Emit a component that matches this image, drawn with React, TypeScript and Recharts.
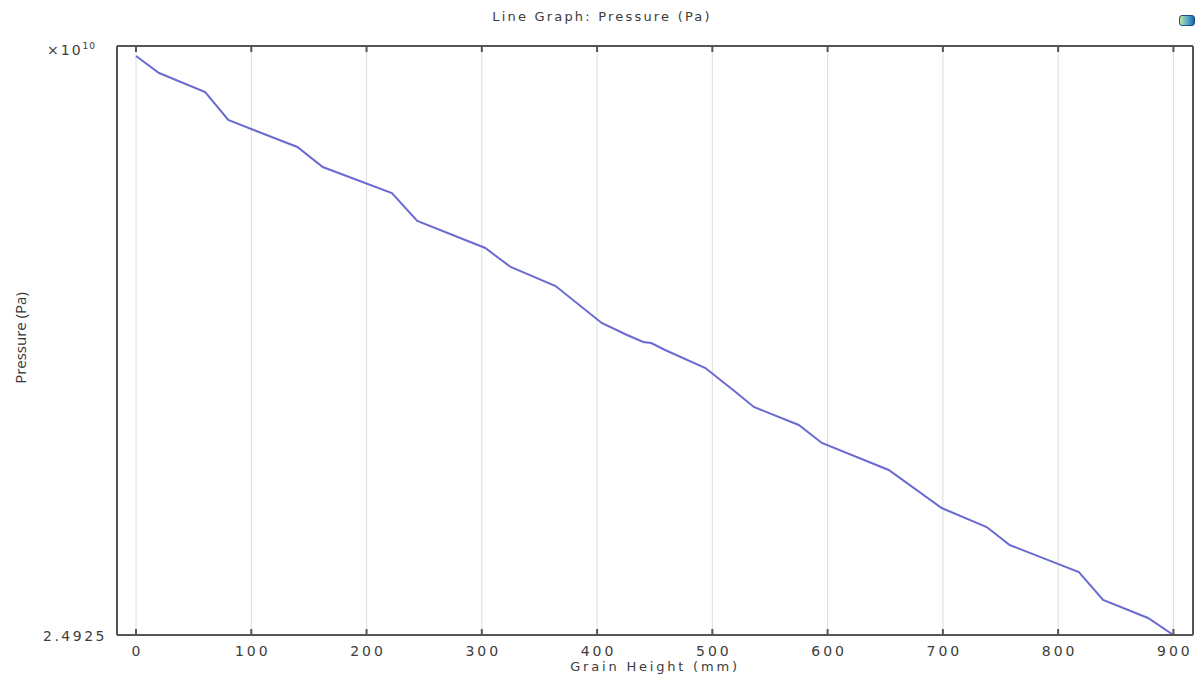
import React from "react";
import {
  LineChart,
  Line,
  XAxis,
  YAxis,
  CartesianGrid,
} from "recharts";

// grain height (mm) at each kink of the curve
const heights = [
  0, 20, 60, 80, 140, 162, 222, 244, 303, 325, 364, 404, 426, 440, 447, 459,
  494, 507, 518, 536, 575, 595, 653, 699, 738, 758, 818, 839, 878, 900,
];
// pressure in units of 1e10 Pa
const pressures = [
  2.5504, 2.5487, 2.5468, 2.544, 2.5413, 2.5393, 2.5367, 2.5339, 2.5312,
  2.5293, 2.5274, 2.5237, 2.5225, 2.5218, 2.5217, 2.521, 2.5192, 2.518,
  2.517, 2.5153, 2.5135, 2.5117, 2.509, 2.5052, 2.5033, 2.5015, 2.4988,
  2.496, 2.4942, 2.4925,
];
const xTicks = [0, 100, 200, 300, 400, 500, 600, 700, 800, 900];
const yTicks = [2.4925];

const data = heights.map((h, i) => ({ height: h, pressure: pressures[i] }));

const FONT = "'DejaVu Sans', Verdana, sans-serif";
const TEXT = "#3c3c3c";
const FRAME = "#555";

const BottomTick = (props: any) => {
  const { x, y, payload } = props;
  return (
    <g>
      <line x1={x} x2={x} y1={y} y2={y - 6} stroke={FRAME} strokeWidth={2} />
      <text
        x={x + 1.5}
        y={y + 21}
        textAnchor="middle"
        fontFamily={FONT}
        fontSize={14}
        letterSpacing={3}
        fill={TEXT}
      >
        {payload.value}
      </text>
    </g>
  );
};

const TopTick = (props: any) => {
  const { x, y } = props;
  return <line x1={x} x2={x} y1={y} y2={y + 6} stroke={FRAME} strokeWidth={2} />;
};

const LeftTick = (props: any) => {
  const { y, payload } = props;
  return (
    <text
      x={107}
      y={y + 6}
      textAnchor="end"
      fontFamily={FONT}
      fontSize={14}
      letterSpacing={2.5}
      fill={TEXT}
    >
      {payload.value}
    </text>
  );
};

export default function App() {
  return (
    <div
      style={{
        position: "absolute",
        left: 0,
        top: 0,
        width: 1200,
        height: 681,
        background: "#fff",
      }}
    >
      <LineChart
        width={1200}
        height={681}
        data={data}
        margin={{ top: 45, right: 6, bottom: 0, left: 0 }}
      >
        <CartesianGrid horizontal={false} stroke="#dcdcdc" />
        <XAxis
          dataKey="height"
          type="number"
          domain={[-16.5, 917]}
          ticks={xTicks}
          allowDataOverflow
          height={46}
          tickSize={0}
          tickMargin={0}
          tickLine={false}
          axisLine={{ stroke: FRAME, strokeWidth: 2 }}
          tick={<BottomTick />}
        />
        <XAxis
          xAxisId="top"
          orientation="top"
          dataKey="height"
          type="number"
          domain={[-16.5, 917]}
          ticks={xTicks}
          allowDataOverflow
          height={1}
          tickSize={0}
          tickMargin={0}
          tickLine={false}
          axisLine={{ stroke: FRAME, strokeWidth: 2 }}
          tick={<TopTick />}
        />
        <YAxis
          type="number"
          domain={[2.4925, 2.5514]}
          ticks={yTicks}
          allowDataOverflow
          width={117}
          tickLine={false}
          axisLine={{ stroke: FRAME, strokeWidth: 2 }}
          tick={<LeftTick />}
        />
        <YAxis
          yAxisId="right"
          orientation="right"
          width={1}
          tick={false}
          tickLine={false}
          axisLine={{ stroke: FRAME, strokeWidth: 2 }}
        />
        <Line
          type="linear"
          dataKey="pressure"
          stroke="#6a6ad2"
          strokeWidth={2}
          dot={false}
          isAnimationActive={false}
        />
      </LineChart>

      <div
        style={{
          position: "absolute",
          left: 0,
          width: 1200,
          top: 9,
          textAlign: "center",
          fontFamily: FONT,
          fontSize: 13,
          letterSpacing: 2.2,
          color: TEXT,
          paddingLeft: 4,
          boxSizing: "border-box",
        }}
      >
        Line Graph: Pressure (Pa)
      </div>

      <div
        style={{
          position: "absolute",
          left: 47,
          top: 41,
          fontFamily: FONT,
          fontSize: 14,
          letterSpacing: 2,
          color: TEXT,
        }}
      >
        ×10<sup style={{ fontSize: 9, letterSpacing: 1, verticalAlign: "6px" }}>10</sup>
      </div>

      <div
        style={{
          position: "absolute",
          left: 20,
          top: 338,
          transform: "translate(-50%, -50%) rotate(-90deg)",
          fontFamily: "'Open Sans', sans-serif",
          fontSize: 15,
          color: "#333",
          whiteSpace: "nowrap",
        }}
      >
        Pressure (Pa)
      </div>

      <div
        style={{
          position: "absolute",
          left: 0,
          width: 1200,
          top: 659,
          textAlign: "center",
          paddingLeft: 110,
          boxSizing: "border-box",
          fontFamily: FONT,
          fontSize: 13,
          letterSpacing: 2.8,
          color: TEXT,
        }}
      >
        Grain Height (mm)
      </div>

      <div
        style={{
          position: "absolute",
          left: 1179,
          top: 15,
          width: 14,
          height: 9,
          borderRadius: 3,
          border: "1px solid #1f4f8a",
          background: "linear-gradient(90deg, #b9e6a0 0%, #4fa3c9 60%, #1f5fa6 100%)",
        }}
      />
    </div>
  );
}
